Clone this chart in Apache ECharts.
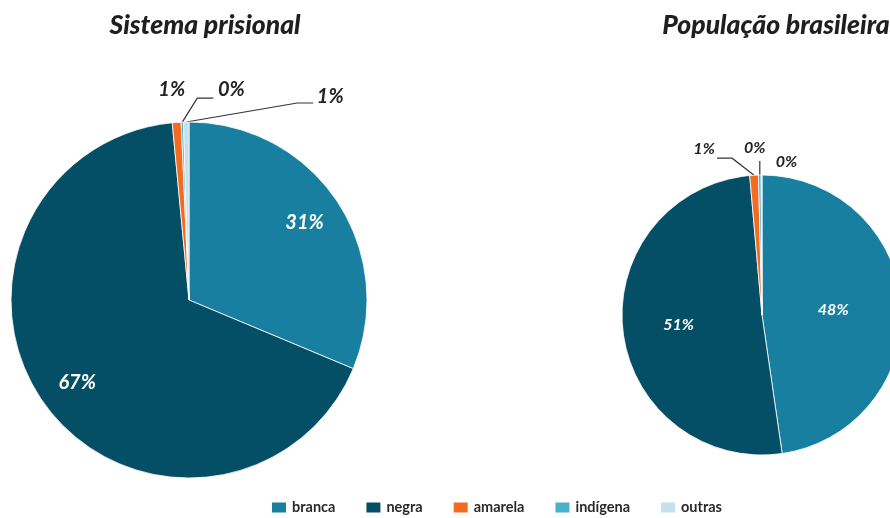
<!DOCTYPE html>
<html>
<head>
<meta charset="utf-8">
<script src="https://cdn.jsdelivr.net/npm/echarts@6/dist/echarts.min.js"></script>
<style>
  html, body { margin: 0; padding: 0; background: #fff; }
  #chart { width: 890px; height: 518px; }
</style>
</head>
<body>
<div id="chart"></div>
<script>
// Raça/cor: sistema prisional vs. população brasileira (% of each group)
const categories = ['branca', 'negra', 'amarela', 'indígena', 'outras'];
const prisonShare = [31.3, 67.2, 0.8, 0.2, 0.5];
const populationShare = [47.7, 50.9, 1.0, 0.3, 0.1];
const titles = ['Sistema prisional', 'População brasileira'];

const colors = ['#187fa0', '#054f66', '#f26b21', '#4bb0cc', '#c4e0ea'];
const FONT = 'Lato, "Open Sans", sans-serif';

// Geometry and label placement for each pie. Inner labels sit at a fraction of the
// radius; outer labels are offset from the slice's outer edge, with optional leader bends.
const pies = [
  {
    values: prisonShare, center: [189, 300], radius: 178, titleX: 200,
    fontSize: 20, inner: [0.78, 0.78],
    outer: {
      2: { text: [-5, -33] },
      3: { line: [[15, -24], [31, -24]], text: [49, -33] },
      4: { line: [[111, -19], [127, -19]], text: [144, -25] }
    }
  },
  {
    values: populationShare, center: [762, 315], radius: 140, titleX: 771,
    fontSize: 16, inner: [0.51, 0.6],
    outer: {
      2: { line: [[-22, -17], [-37, -17]], text: [-50, -26] },
      3: { line: [[0, -14], [0, -14]], text: [-5, -27] },
      4: { text: [25, -13] }
    }
  }
];

// Unit vector pointing at the middle of slice i (start at 12 o'clock, clockwise).
function sliceDirection(values, i) {
  const total = values.reduce((a, b) => a + b, 0);
  let before = 0;
  for (let k = 0; k < i; k++) before += values[k];
  const a = (before + values[i] / 2) / total * 2 * Math.PI;
  return [Math.sin(a), -Math.cos(a)];
}

function makeSeries(p) {
  return {
    type: 'pie',
    center: p.center,
    radius: p.radius,
    startAngle: 90,
    clockwise: true,
    avoidLabelOverlap: false,
    minShowLabelAngle: 0,
    animation: false,
    emphasis: { disabled: true },
    itemStyle: { borderColor: '#ffffff', borderWidth: 0.8 },
    label: {
      show: true,
      fontFamily: FONT,
      fontStyle: 'italic',
      fontWeight: 'bold',
      fontSize: p.fontSize,
      formatter: (d) => Math.round(d.value) + '%'
    },
    labelLine: { lineStyle: { color: '#333333', width: 1.2 } },
    labelLayout: function (params) {
      const i = params.dataIndex;
      const d = sliceDirection(p.values, i);
      const cx = p.center[0], cy = p.center[1];
      if (i < 2) {
        const r = p.inner[i] * p.radius;
        return { x: cx + d[0] * r, y: cy + d[1] * r, align: 'center', verticalAlign: 'middle' };
      }
      const edge = [cx + d[0] * p.radius, cy + d[1] * p.radius];
      const o = p.outer[i];
      const res = {
        x: edge[0] + o.text[0], y: edge[1] + o.text[1],
        align: 'center', verticalAlign: 'middle'
      };
      if (o.line) {
        res.labelLinePoints = [edge].concat(o.line.map(q => [edge[0] + q[0], edge[1] + q[1]]));
      }
      return res;
    },
    data: categories.map((name, i) => ({
      name: name,
      value: p.values[i],
      label: i < 2
        ? { position: 'inside', color: '#ffffff' }
        : { position: 'outside', color: '#222222' },
      labelLine: { show: !!(p.outer[i] && p.outer[i].line) }
    }))
  };
}

const chart = echarts.init(document.getElementById('chart'), null, { renderer: 'canvas' });
chart.setOption({
  color: colors,
  animation: false,
  title: pies.map((p, i) => ({
    text: titles[i],
    left: p.titleX,
    top: 7,
    textAlign: 'center',
    textStyle: {
      fontFamily: FONT, fontStyle: 'italic', fontWeight: 900,
      fontSize: 26.5, color: '#1f1f1f'
    }
  })),
  legend: {
    data: categories,
    left: 270,
    top: 500,
    padding: 0,
    icon: 'rect',
    itemWidth: 16,
    itemHeight: 12,
    itemGap: 29,
    selectedMode: false,
    textStyle: { fontFamily: FONT, fontSize: 14.5, fontWeight: 'bold', color: '#2a2a2a' }
  },
  series: pies.map(makeSeries)
});
</script>
</body>
</html>
